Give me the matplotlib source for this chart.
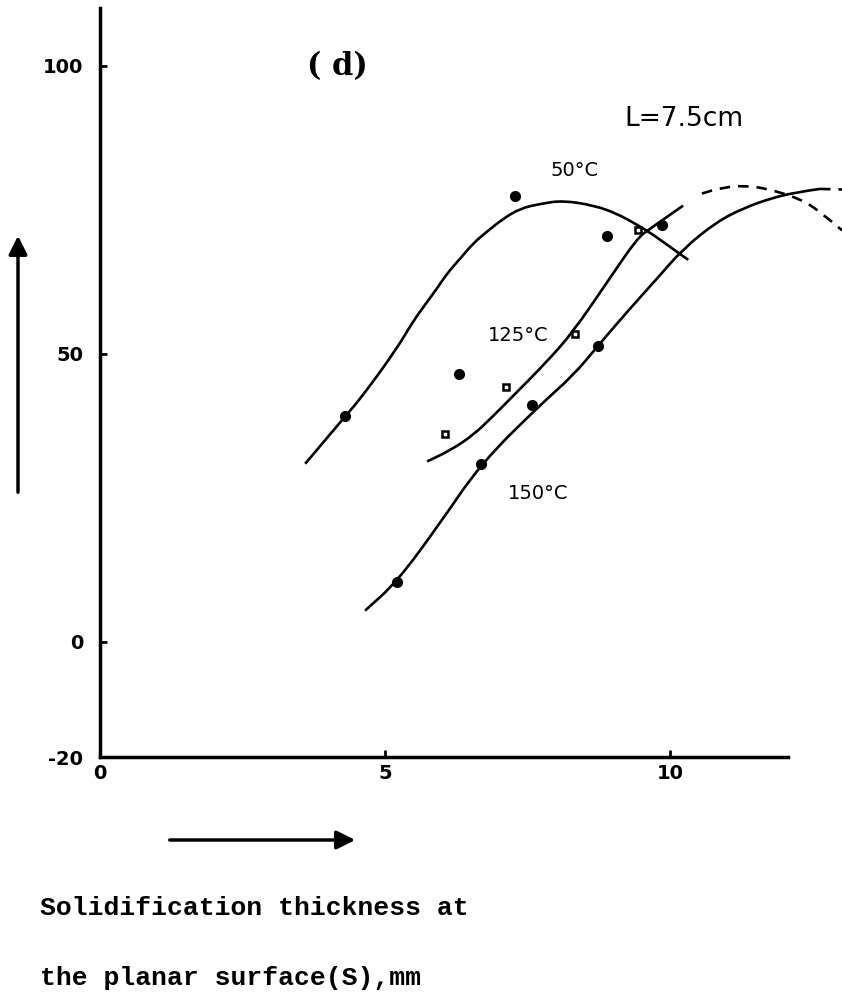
import matplotlib
matplotlib.use("Agg")
import matplotlib.pyplot as plt
from matplotlib.path import Path
from matplotlib.patches import PathPatch

# traced curves (x: solidification thickness mm, y: value)
x_50 = [3.60, 4.30, 4.61, 5.21, 5.49, 5.74, 5.91, 6.11, 6.32, 6.54, 6.79, 7.07, 7.37, 7.72, 8.12,
        8.68, 9.07, 9.42, 9.70, 10.23, 10.32]
y_50 = [30.9, 39.1, 42.7, 50.9, 55.6, 59.0, 61.3, 64.2, 66.5, 69.1, 71.2, 73.4, 75.2, 76.0, 76.6,
        75.7, 74.3, 72.4, 70.7, 66.9, 66.3]

x_125 = [5.74, 6.14, 6.54, 6.89, 7.25, 7.84, 8.30, 8.89, 9.42, 9.65, 10.23]
y_125 = [31.3, 33.2, 35.8, 39.1, 42.7, 48.6, 53.8, 62.3, 70.0, 71.7, 75.7]

x_125_dash = [10.56, 10.90, 11.32, 11.72, 12.28, 12.63, 13.02]
y_125_dash = [77.8, 78.8, 79.2, 78.6, 76.9, 74.7, 71.4]

x_150 = [4.65, 5.21, 5.96, 6.68, 7.72, 8.30, 8.74, 9.25, 9.77, 10.23, 10.82, 11.30, 11.75, 12.20, 12.63]
y_150 = [5.4, 10.4, 20.5, 30.9, 41.1, 46.2, 51.4, 57.3, 63.0, 68.2, 72.9, 75.3, 76.9, 78.0, 78.6]

x_150_dash = [12.63, 13.02]
y_150_dash = [78.6, 78.5]

# measured points
px_50 = [4.30, 6.30, 7.28, 8.89, 9.86]
py_50 = [39.1, 46.5, 77.3, 70.5, 72.4]

px_125 = [6.05, 7.12, 8.33, 9.44]
py_125 = [36.0, 44.3, 53.5, 71.4]

px_150 = [5.21, 6.68, 7.58, 8.74]
py_150 = [10.4, 30.9, 41.1, 51.4]

yticks = [-20, 0, 50, 100]
xticks = [0, 5, 10]


def smooth_curve(ax, xs, ys, **kw):
    # quadratic bezier through the midpoints, traced points act as controls
    pts = list(zip(xs, ys))
    if len(pts) < 3:
        verts, codes = pts, [Path.MOVETO] + [Path.LINETO] * (len(pts) - 1)
    else:
        verts = [pts[0]]
        codes = [Path.MOVETO]
        mid = ((pts[0][0] + pts[1][0]) / 2, (pts[0][1] + pts[1][1]) / 2)
        verts.append(mid)
        codes.append(Path.LINETO)
        for i in range(1, len(pts) - 1):
            nxt = ((pts[i][0] + pts[i + 1][0]) / 2, (pts[i][1] + pts[i + 1][1]) / 2)
            if i == len(pts) - 2:
                nxt = pts[-1]
            verts += [pts[i], nxt]
            codes += [Path.CURVE3, Path.CURVE3]
    ax.add_patch(PathPatch(Path(verts, codes), fill=False, **kw))


fig = plt.figure(figsize=(8.42, 10.05), dpi=100)
ax = fig.add_axes([100 / 842, 248 / 1005, 742 / 842, 749 / 1005])

lw = 1.9
smooth_curve(ax, x_50, y_50, edgecolor='black', lw=lw, capstyle='butt')
smooth_curve(ax, x_125, y_125, edgecolor='black', lw=lw, capstyle='butt')
smooth_curve(ax, x_150, y_150, edgecolor='black', lw=lw, capstyle='butt')
smooth_curve(ax, x_125_dash, y_125_dash, edgecolor='black', lw=lw, linestyle=(0, (4, 3)))
smooth_curve(ax, x_150_dash, y_150_dash, edgecolor='black', lw=lw, linestyle=(0, (4, 3)))

ax.plot(px_50, py_50, 'o', color='black', markersize=7)
ax.plot(px_150, py_150, 'o', color='black', markersize=7)
ax.plot(px_125, py_125, 's', markerfacecolor='white', markeredgecolor='black',
        markeredgewidth=1.8, markersize=5)

ax.set_xlim(0, 742 / 57)
ax.set_ylim(-20, 110)

for s in ['top', 'right']:
    ax.spines[s].set_visible(False)
ax.spines['left'].set_linewidth(2.5)
ax.spines['bottom'].set_linewidth(2.5)
ax.spines['bottom'].set_bounds(0, 12.07)

tick_font = dict(family='DejaVu Sans', weight='bold', size=14)
ax.set_yticks(yticks)
ax.set_yticklabels([str(v) for v in yticks], **tick_font)
ax.set_xticks(xticks)
ax.set_xticklabels([str(v) for v in xticks], **tick_font)
ax.tick_params(axis='y', direction='in', length=5, width=2, pad=12)
ax.tick_params(axis='x', direction='in', length=5, width=2, pad=5)

ax.text(4.16, 99.8, '( d)', family='DejaVu Serif', weight='bold', fontsize=22,
        ha='center', va='center')
ax.text(10.25, 90.8, 'L=7.5cm', family='DejaVu Sans', fontsize=19,
        ha='center', va='center')
ax.text(8.33, 81.8, '50°C', family='DejaVu Sans', fontsize=14,
        ha='center', va='center')
ax.text(7.33, 53.1, '125°C', family='DejaVu Sans', fontsize=14,
        ha='center', va='center')
ax.text(7.68, 25.7, '150°C', family='DejaVu Sans', fontsize=14,
        ha='center', va='center')

# direction arrows
arrow = dict(arrowstyle='-|>', lw=2.5, color='black', mutation_scale=28)
ax.annotate('', xy=(18 / 842, 1 - 233 / 1005), xytext=(18 / 842, 1 - 495 / 1005),
            xycoords='figure fraction', textcoords='figure fraction', arrowprops=arrow)
ax.annotate('', xy=(358 / 842, 1 - 840 / 1005), xytext=(167 / 842, 1 - 840 / 1005),
            xycoords='figure fraction', textcoords='figure fraction', arrowprops=arrow)

fig.text(40 / 842, 1 - 908 / 1005, 'Solidification thickness at',
         family='Liberation Mono', weight='bold', fontsize=19, va='center')
fig.text(40 / 842, 1 - 978 / 1005, 'the planar surface(S),mm',
         family='Liberation Mono', weight='bold', fontsize=19, va='center')

fig.savefig('out.png', dpi=100, facecolor='white')
